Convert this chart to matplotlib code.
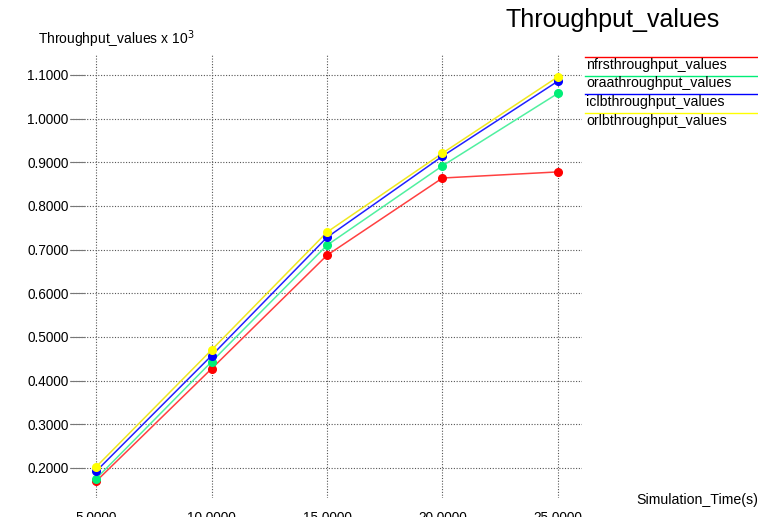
import matplotlib
matplotlib.use("Agg")
import matplotlib.pyplot as plt
from matplotlib.lines import Line2D

plt.rcParams['font.family'] = ['Liberation Sans', 'DejaVu Sans']

# dati
sim_time = [5, 10, 15, 20, 25]
nfrs = [0.169, 0.427, 0.687, 0.864, 0.878]
oraa = [0.175, 0.443, 0.710, 0.892, 1.058]
iclb = [0.192, 0.457, 0.728, 0.914, 1.086]
orlb = [0.202, 0.470, 0.740, 0.921, 1.096]

serie = [
    ("nfrsthroughput_values", nfrs, "#ff0000", "#ff4040"),
    ("oraathroughput_values", oraa, "#00ee77", "#50f0a0"),
    ("iclbthroughput_values", iclb, "#0000ff", "#2020ff"),
    ("orlbthroughput_values", orlb, "#ffff00", "#f0e820"),
]
y_ticks = [0.2, 0.3, 0.4, 0.5, 0.6, 0.7, 0.8, 0.9, 1.0, 1.1]

W, H = 758, 517
fig = plt.figure(figsize=(W/100, H/100), dpi=100)
ax = fig.add_axes([70/W, 1-498/H, 512/W, 443/H])

for nome, valori, col_m, col_l in serie:
    ax.plot(sim_time, valori, color=col_l, lw=1.1, zorder=3)
    ax.plot(sim_time, valori, ls="none", marker="o", ms=5.5,
            color=col_m, zorder=4)

ax.set_xlim(3.874, 26.04)
ax.set_ylim(0.131, 1.1458)
ax.set_xticks(sim_time)
ax.set_xticklabels([f"{v:.4f}" for v in sim_time])
ax.set_yticks(y_ticks)
ax.set_yticklabels([f"{v:.4f}" for v in y_ticks])
ax.grid(True, color="#555555", ls=(0, (1, 1.5)), lw=0.8)
for s in ax.spines.values():
    s.set_visible(False)
ax.tick_params(axis="y", direction="in", length=11, width=0.8,
               color="#777777", pad=1, labelsize=9.8)
ax.tick_params(axis="x", direction="in", length=0, pad=9, labelsize=9.8)

# titolo ed etichette
fig.text(506/W, 1-20/H, "Throughput_values", fontsize=18,
         ha="left", va="center")
fig.text(38/W, 1-39/H, "Throughput_values x 10$^3$", fontsize=10,
         ha="left", va="center")
fig.text(636/W, 1-500/H, "Simulation_Time(s)", fontsize=10.2,
         ha="left", va="center")

# legenda: linea sopra il testo
for i, (nome, valori, col_m, col_l) in enumerate(serie):
    y_line = 57 + i*18.7
    fig.add_artist(Line2D([585/W, 1], [1-y_line/H, 1-y_line/H],
                          color=col_m, lw=1.0))
    fig.text(586/W, 1-(y_line+7.5)/H, nome, fontsize=10.2,
             ha="left", va="center")

fig.savefig("out.png", dpi=100)
